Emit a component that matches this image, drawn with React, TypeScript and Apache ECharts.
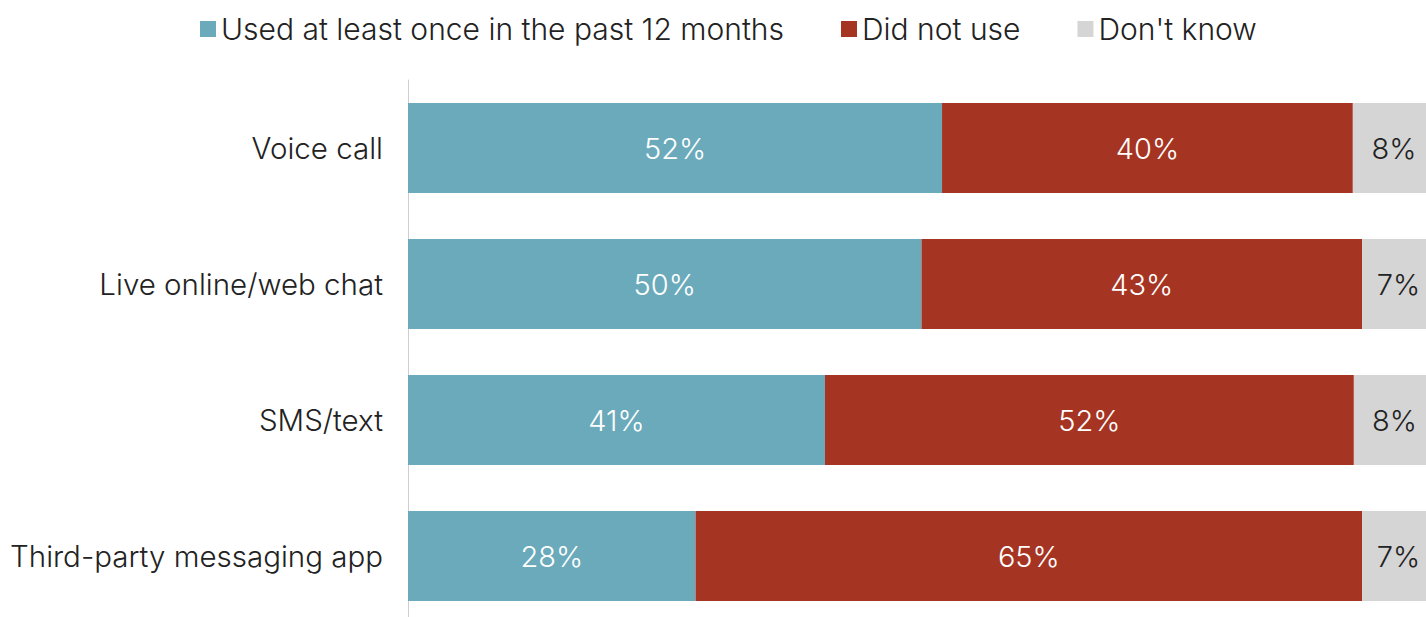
import React, { useEffect, useRef } from "react";
import * as echarts from "echarts";

const categories = ["Voice call", "Live online/web chat", "SMS/text", "Third-party messaging app"];
const usedValues = [52, 50, 40.6, 28];
const didNotUseValues = [40, 42.9, 51.5, 64.9];
const dontKnowValues = [8, 7.1, 7.9, 7.1];
const seriesNames = ["Used at least once in the past 12 months", "Did not use", "Don't know"];

const FONT = "Inter";
const FS = 29;

export default function App() {
  const ref = useRef<HTMLDivElement>(null);
  useEffect(() => {
    if (!ref.current) return;
    const chart = echarts.init(ref.current, null, { renderer: "svg" });
    const label = (color: string) => ({
      show: true,
      position: "inside" as const,
      color,
      fontFamily: FONT,
      fontWeight: 300 as any,
      fontSize: FS,
      formatter: (p: any) => Math.round(p.value) + "%",
    });
    chart.setOption({
      animation: false,
      textStyle: { fontFamily: FONT },
      legend: {
        left: 195,
        top: 9,
        itemWidth: 16,
        itemHeight: 16,
        itemGap: 57,
        icon: "rect",
        textStyle: {
          fontSize: 30,
          fontWeight: 300,
          color: "#222",
          fontFamily: FONT,
        },
        data: seriesNames,
      },
      grid: { left: 408, top: 80, width: 1027, height: 544, containLabel: false },
      xAxis: { type: "value", min: 0, max: 100, show: false },
      yAxis: {
        type: "category",
        data: categories,
        inverse: true,
        axisTick: { show: false },
        axisLine: { show: true, lineStyle: { color: "#cfcfcf", width: 1 } },
        axisLabel: { color: "#222", fontSize: 29.5, fontWeight: 300, fontFamily: FONT, margin: 25 },
      },
      series: [
        {
          name: seriesNames[0],
          type: "bar",
          stack: "all",
          data: usedValues,
          barCategoryGap: "34%",
          itemStyle: { color: "#6aaabb" },
          label: label("#ffffff"),
        },
        {
          name: seriesNames[1],
          type: "bar",
          stack: "all",
          data: didNotUseValues,
          itemStyle: { color: "#a63422" },
          label: label("#ffffff"),
        },
        {
          name: seriesNames[2],
          type: "bar",
          stack: "all",
          data: dontKnowValues,
          itemStyle: { color: "#d5d5d5" },
          label: label("#222"),
        },
      ],
    });
    return () => chart.dispose();
  }, []);
  return (
    <div style={{ position: "fixed", left: 0, top: 0, width: 1426, height: 617, overflow: "hidden", background: "#fff" }}>
      <div ref={ref} style={{ position: "absolute", left: 0, top: 0, width: 1460, height: 640 }} />
    </div>
  );
}
